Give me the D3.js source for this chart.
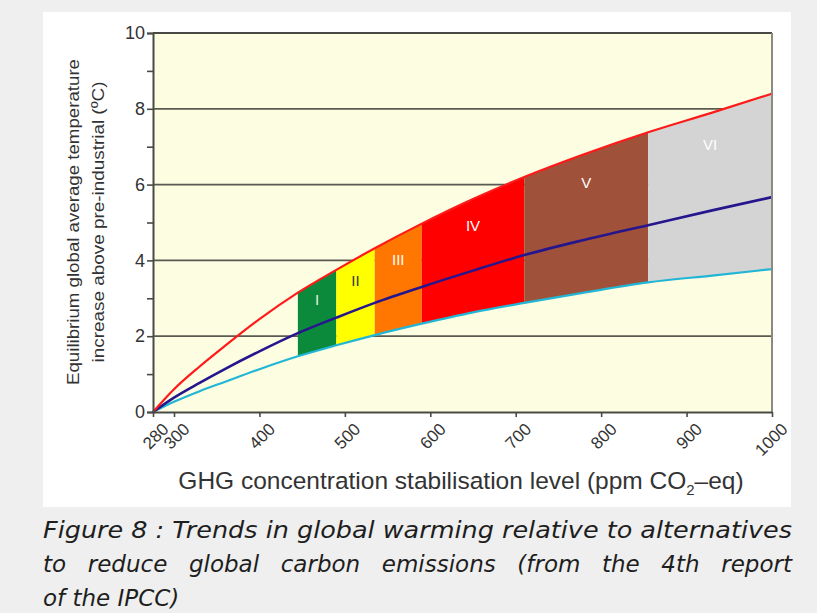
<!DOCTYPE html>
<html lang="en">
<head>
  <meta charset="UTF-8" />
  <title>GHG stabilisation and equilibrium warming</title>
  <script src="https://d3js.org/d3.v7.min.js"></script>
  <style>
    body { margin: 0; background: #eeefee; }
    svg { display: block; }
    .tick text { font-family: "Liberation Sans", Arial, sans-serif; fill: #333; }
    .caption { font-family: "DejaVu Sans", Verdana, sans-serif; font-style: italic; font-size: 23px; fill: #1e1e1e; }
  </style>
</head>
<body>
  <svg width="817" height="613"></svg>

  <script>
    // values
    const ppm   = [280, 300, 330, 360, 400, 445, 490, 535, 590, 650, 710, 780, 855, 930, 1000];
    const upper = [0, 0.6, 1.2, 1.75, 2.45, 3.15, 3.75, 4.32, 4.97, 5.62, 6.2, 6.8, 7.38, 7.9, 8.4];
    const best  = [0, 0.38, 0.77, 1.14, 1.6, 2.08, 2.49, 2.88, 3.3, 3.73, 4.14, 4.54, 4.93, 5.32, 5.67];
    const lower = [0, 0.27, 0.55, 0.8, 1.13, 1.47, 1.76, 2.03, 2.33, 2.63, 2.88, 3.15, 3.42, 3.6, 3.77];

    const categories = ["I", "II", "III", "IV", "V", "VI"];
    const catStart = [445, 490, 535, 590, 710, 855];
    const catEnd   = [490, 535, 590, 710, 855, 1000];

    const xTicks = [280, 300, 400, 500, 600, 700, 800, 900, 1000];
    const yTicks = [0, 2, 4, 6, 8, 10];

    const catColors = ["#0b8a3b", "#ffff00", "#ff7700", "#ff0000", "#a0513a", "#d4d4d4"];
    const catText   = ["#e8f0e0", "#333", "#fff", "#fff", "#fff", "#fff"];

    const svg = d3.select("svg");

    // white panel
    svg.append("rect").attr("x", 43).attr("y", 12).attr("width", 748).attr("height", 495).attr("fill", "#fff");

    const x = d3.scaleLinear().domain([280, 300, 1000]).range([153, 174, 772]);
    const y = d3.scaleLinear().domain([0, 10]).range([412, 33]);

    // plot background
    svg.append("rect")
      .attr("x", x(280)).attr("y", y(10))
      .attr("width", x(1000) - x(280)).attr("height", y(0) - y(10))
      .attr("fill", "#fdfde2");

    // gridlines
    svg.append("g").selectAll("line")
      .data(yTicks.filter(d => d > 0 && d < 10))
      .join("line")
      .attr("x1", x(280)).attr("x2", x(1000))
      .attr("y1", d => y(d)).attr("y2", d => y(d))
      .attr("stroke", "#5a5a52").attr("stroke-width", 1.8);

    const rows = ppm.map((p, i) => ({ p, hi: upper[i], mid: best[i], lo: lower[i] }));

    const area = d3.area()
      .x(d => x(d.p))
      .y0(d => y(d.lo))
      .y1(d => y(d.hi))
      .curve(d3.curveMonotoneX);

    // category bands
    categories.forEach((c, i) => {
      const sub = rows.filter(d => d.p >= catStart[i] && d.p <= catEnd[i]);
      svg.append("path").datum(sub)
        .attr("d", area)
        .attr("fill", catColors[i]);
    });

    const interp = (arr, p) => {
      const j = Math.min(d3.bisectRight(ppm, p), ppm.length - 1);
      const t = (p - ppm[j - 1]) / (ppm[j] - ppm[j - 1]);
      return arr[j - 1] + t * (arr[j] - arr[j - 1]);
    };

    svg.append("g").selectAll("text")
      .data(categories)
      .join("text")
      .attr("x", (d, i) => x((catStart[i] + catEnd[i]) / 2))
      .attr("y", (d, i) => y(interp(upper, (catStart[i] + catEnd[i]) / 2)) + 24 + i * 2.5)
      .attr("text-anchor", "middle")
      .attr("font-family", "Liberation Sans, Arial, sans-serif")
      .attr("font-size", 15)
      .attr("fill", (d, i) => catText[i])
      .text(d => d);

    // curves
    const line = key => d3.line().x(d => x(d.p)).y(d => y(d[key])).curve(d3.curveMonotoneX);
    svg.append("path").datum(rows).attr("d", line("lo")).attr("fill", "none").attr("stroke", "#22b6d6").attr("stroke-width", 2.2);
    svg.append("path").datum(rows).attr("d", line("mid")).attr("fill", "none").attr("stroke", "#26168e").attr("stroke-width", 2.6);
    svg.append("path").datum(rows).attr("d", line("hi")).attr("fill", "none").attr("stroke", "#ff1a1a").attr("stroke-width", 2.2);

    // frame
    svg.append("line").attr("x1", x(280)).attr("x2", x(1000)).attr("y1", y(10)).attr("y2", y(10))
      .attr("stroke", "#4a4a44").attr("stroke-width", 2);
    svg.append("line").attr("x1", x(1000)).attr("x2", x(1000)).attr("y1", y(10)).attr("y2", y(0))
      .attr("stroke", "#8a8a80").attr("stroke-width", 2);

    // axes
    const yAxis = svg.append("g")
      .attr("transform", `translate(${x(280)},0)`)
      .call(d3.axisLeft(y).tickValues(d3.range(0, 11)).tickSize(6).tickFormat(d => d % 2 === 0 ? d : ""));
    yAxis.select(".domain").attr("stroke", "#4a4a44").attr("stroke-width", 2);
    yAxis.selectAll(".tick line").attr("stroke", "#4a4a44").attr("stroke-width", 1.6);
    yAxis.selectAll(".tick text").attr("font-size", 18).attr("x", -8);

    const xAxis = svg.append("g")
      .attr("transform", `translate(0,${y(0)})`)
      .call(d3.axisBottom(x).tickValues(xTicks).tickSize(5).tickSizeOuter(0).tickFormat(d3.format("d")));
    xAxis.select(".domain").attr("stroke", "#4a4a44").attr("stroke-width", 2);
    xAxis.selectAll(".tick line").attr("stroke", "#4a4a44").attr("stroke-width", 1.6);
    xAxis.selectAll(".tick text")
      .attr("font-size", 17)
      .attr("text-anchor", "end")
      .attr("dy", "0.35em")
      .attr("transform", "translate(12,14) rotate(-45)")
      .attr("x", 0).attr("y", 0);

    // axis titles
    const yTitle = svg.append("text")
      .attr("transform", "translate(79,222) rotate(-90)")
      .attr("text-anchor", "middle")
      .attr("font-family", "Liberation Sans, Arial, sans-serif")
      .attr("font-size", 17)
      .attr("fill", "#333");
    yTitle.append("tspan").attr("x", 0).attr("y", 0)
      .attr("textLength", 326).attr("lengthAdjust", "spacingAndGlyphs")
      .text("Equilibrium global average temperature");
    yTitle.append("tspan").attr("x", 0).attr("y", 25)
      .attr("textLength", 281).attr("lengthAdjust", "spacingAndGlyphs")
      .text("increase above pre-industrial (ºC)");

    const xTitle = svg.append("text")
      .attr("x", 461).attr("y", 489)
      .attr("text-anchor", "middle")
      .attr("font-family", "Liberation Sans, Arial, sans-serif")
      .attr("font-size", 24.5)
      .attr("fill", "#333");
    xTitle.append("tspan").text("GHG concentration stabilisation level (ppm CO");
    xTitle.append("tspan").attr("font-size", 15).attr("dy", 6).text("2");
    xTitle.append("tspan").attr("dy", -6).text("–eq)");

    // caption
    const captionLines = [
      "Figure 8 : Trends in global warming relative to alternatives",
      "to reduce global carbon emissions (from the 4th report",
      "of the IPCC)"
    ];
    const capWidth = 749;
    svg.append("g").selectAll("text")
      .data(captionLines)
      .join("text")
      .attr("class", "caption")
      .attr("x", 43)
      .attr("y", (d, i) => 538 + i * 34)
      .text(d => d)
      .each(function(d, i) {
        const t = d3.select(this);
        if (i === 0) {
          t.attr("textLength", capWidth).attr("lengthAdjust", "spacingAndGlyphs");
        } else if (i === 1) {
          const w = this.getComputedTextLength();
          const gaps = d.split(" ").length - 1;
          t.attr("word-spacing", (capWidth - w) / gaps);
        }
      });
  </script>
</body>
</html>
